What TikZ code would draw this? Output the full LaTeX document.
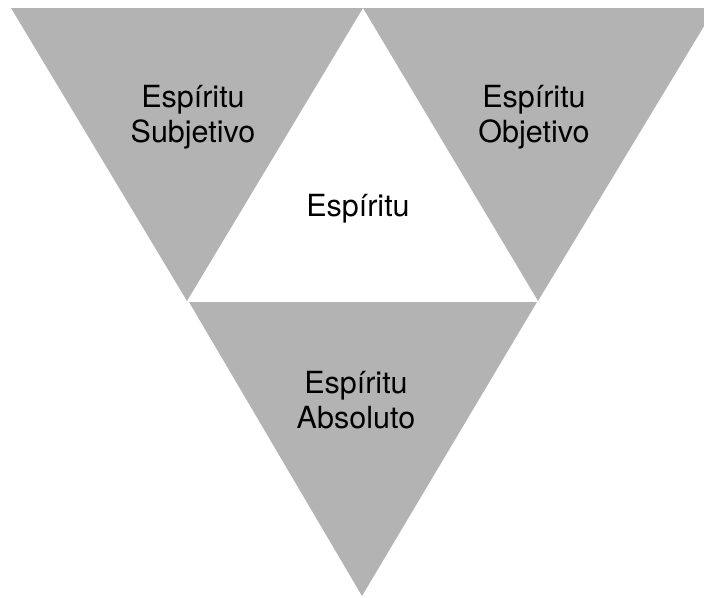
\documentclass[tikz,border=0pt]{standalone}
\usepackage{fontspec}
\setmainfont{TeX Gyre Heros}
\definecolor{wedge}{HTML}{B3B3B3}
\tikzset{
  wedgeshape/.style={fill=wedge, draw=none},
  label text/.style={font=\fontsize{30.5}{35}\selectfont, align=center, anchor=base, inner sep=0pt, text=black}
}
\begin{document}
\begin{tikzpicture}[x=1pt,y=-1pt]
  \useasboundingbox (0,0) rectangle (704,597);
  \clip (0,0) rectangle (704,597);
  % the three grey wedges around the central white triangle
  \fill[wedgeshape] (11,8) -- (363,8) -- (187,301) -- cycle;
  \fill[wedgeshape] (363,8) -- (715,8) -- (538,301) -- cycle;
  \fill[wedgeshape] (189,302) -- (537,302) -- (362,596) -- cycle;
  % labels (base anchor sits on the last line)
  \node[label text] (subj) at (193,142) {Espíritu\\Subjetivo};
  \node[label text] (obj) at (534,142) {Espíritu\\Objetivo};
  \node[label text] (esp) at (358,216) {Espíritu};
  \node[label text] (abs) at (356,428) {Espíritu\\Absoluto};
\end{tikzpicture}
\end{document}
